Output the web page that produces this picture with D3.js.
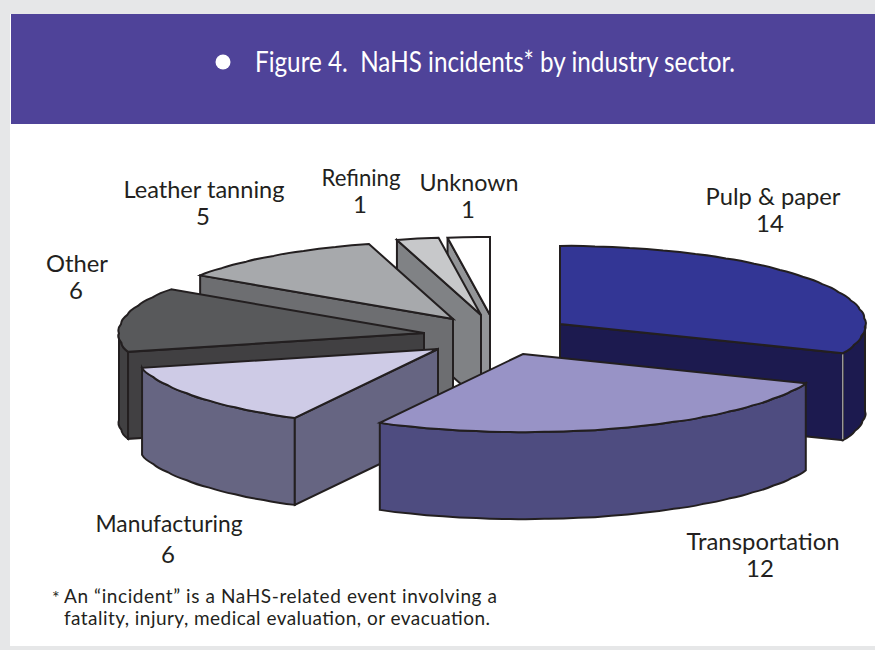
<!DOCTYPE html>
<html>
<head>
<meta charset="utf-8">
<script src="https://cdn.jsdelivr.net/npm/d3@7"></script>
<style>
  html, body { margin: 0; padding: 0; background: #e6e7e8; }
  svg { display: block; }
  text { font-family: Lato, "Open Sans", sans-serif; fill: #231f20; white-space: pre; }
</style>
</head>
<body>
<div id="chart"></div>
<script>
const SECTORS = ["Pulp & paper", "Transportation", "Manufacturing", "Other", "Leather tanning", "Refining", "Unknown"];
const INCIDENTS = [14, 12, 6, 6, 5, 1, 1];
const TOP_COLORS = ["#333695", "#9893c6", "#cecbe6", "#58595b", "#a7a9ac", "#c7c8ca", "#ffffff"];
const WALL_COLORS = ["#1c1a4f", "#4e4c80", "#666582", "#414042", "#6d6e71", "#808285", "#939598"];
const TITLE = "Figure 4.  NaHS incidents* by industry sector.";
const FOOTNOTE = ["An \u201Cincident\u201D is a NaHS-related event involving a", "fatality, injury, medical evaluation, or evacuation."];

// layout only, no data below this line
const WIDTH = 875, HEIGHT = 650;
const RX = 305, RY = 78, DEPTH = 87;
const PIE_CENTER = [480, 333];
// how far each slice is pulled out of the pie
const EXPLODE = [[80, -9], [43, 21], [-42, 16], [-56, 0], [-27, -14], [1, -18], [10, -18]];
// back to front
const DRAW_ORDER = [6, 5, 4, 3, 0, 2, 1];
// name x, name baseline, name width, value x, value baseline
const LABEL_POS = [
  [773, 205, 135, 770, 232],
  [763, 550, 153, 760, 577],
  [169, 532, 147, 168, 563],
  [77, 272, 62, 76, 299],
  [204, 198, 161, 203, 225],
  [361, 186, 79, 360, 213],
  [469, 191, 99, 468, 218]
];
const FOOTNOTE_WIDTH = [433, 426];

const svg = d3.select("#chart").append("svg")
  .attr("width", WIDTH)
  .attr("height", HEIGHT);

svg.append("rect").attr("x", 10).attr("y", 14).attr("width", WIDTH - 10).attr("height", 632).attr("fill", "#fff");
svg.append("rect").attr("x", 11).attr("y", 14).attr("width", WIDTH - 11).attr("height", 110).attr("fill", "#4f4399");
svg.append("circle").attr("cx", 223).attr("cy", 62).attr("r", 7.5).attr("fill", "#fff");
svg.append("text")
  .attr("x", 255).attr("y", 72)
  .attr("font-size", 28)
  .attr("textLength", 480)
  .attr("lengthAdjust", "spacingAndGlyphs")
  .style("fill", "#fff")
  .text(TITLE);

const slices = d3.pie().sort(null).startAngle(0).endAngle(2 * Math.PI)(INCIDENTS);

function point(c, a, k = 1) {
  return [c[0] + k * RX * Math.sin(a), c[1] - k * RY * Math.cos(a)];
}

function below(p) {
  return [p[0], p[1] + DEPTH];
}

// edge of the ellipse, slightly scalloped like the original artwork
function arcTo(path, c, a0, a1) {
  const n = Math.max(1, Math.round(Math.abs(a1 - a0) / (6.5 * Math.PI / 180)));
  for (let i = 1; i <= n; i++) {
    const a = a0 + (a1 - a0) * i / n;
    const mid = a0 + (a1 - a0) * (i - 0.5) / n;
    const ctrl = point(c, mid, 1.008);
    const p = point(c, a);
    path.quadraticCurveTo(ctrl[0], ctrl[1], p[0], p[1]);
  }
}

const layer = svg.append("g")
  .attr("stroke", "#231f20")
  .attr("stroke-width", 2)
  .attr("stroke-linejoin", "miter");

DRAW_ORDER.forEach(i => {
  const s = slices[i];
  const apex = [PIE_CENTER[0] + EXPLODE[i][0], PIE_CENTER[1] + EXPLODE[i][1]];
  const g = layer.append("g").attr("class", "slice");
  const wall = WALL_COLORS[i];

  // outer wall, front half of the ellipse only
  const from = Math.max(s.startAngle, Math.PI / 2);
  const to = Math.min(s.endAngle, 3 * Math.PI / 2);
  if (from < to) {
    const p = d3.path();
    const a = point(apex, from);
    const b = point(apex, to);
    p.moveTo(a[0], a[1]);
    arcTo(p, apex, from, to);
    p.lineTo(b[0], b[1] + DEPTH);
    arcTo(p, [apex[0], apex[1] + DEPTH], to, from);
    p.closePath();
    g.append("path").attr("d", p.toString()).attr("fill", wall);
  }

  // radial walls that face the viewer
  const radial = a => {
    const e = point(apex, a);
    g.append("path")
      .attr("d", d3.line()([apex, e, below(e), below(apex)]) + "Z")
      .attr("fill", wall);
  };
  if (Math.sin(s.startAngle) < -1e-6) radial(s.startAngle);
  if (Math.sin(s.endAngle) > 1e-6) {
    radial(s.endAngle);
    const e = point(apex, s.endAngle);
    g.append("path")
      .attr("d", d3.line()([[e[0], e[1] + 1], [e[0], e[1] + DEPTH - 1]]))
      .attr("stroke", "#c9c9cc")
      .attr("stroke-width", 1);
  }

  // top face
  const top = d3.path();
  top.moveTo(apex[0], apex[1]);
  const st = point(apex, s.startAngle);
  top.lineTo(st[0], st[1]);
  arcTo(top, apex, s.startAngle, s.endAngle);
  top.closePath();
  g.append("path").attr("d", top.toString()).attr("fill", TOP_COLORS[i]);
});

const labels = svg.selectAll(".label")
  .data(SECTORS)
  .enter()
  .append("g")
  .attr("class", "label")
  .attr("text-anchor", "middle")
  .attr("font-size", 24);

labels.append("text")
  .attr("x", (d, i) => LABEL_POS[i][0])
  .attr("y", (d, i) => LABEL_POS[i][1])
  .attr("textLength", (d, i) => LABEL_POS[i][2])
  .attr("lengthAdjust", "spacingAndGlyphs")
  .text(d => d);

labels.append("text")
  .attr("x", (d, i) => LABEL_POS[i][3])
  .attr("y", (d, i) => LABEL_POS[i][4])
  .text((d, i) => INCIDENTS[i]);

svg.append("text").attr("x", 52).attr("y", 604).attr("font-size", 18).text("*");
svg.selectAll(".note")
  .data(FOOTNOTE)
  .enter()
  .append("text")
  .attr("class", "note")
  .attr("x", 64)
  .attr("y", (d, i) => 603 + i * 22)
  .attr("font-size", 19)
  .attr("textLength", (d, i) => FOOTNOTE_WIDTH[i])
  .attr("lengthAdjust", "spacing")
  .text(d => d);
</script>
</body>
</html>
